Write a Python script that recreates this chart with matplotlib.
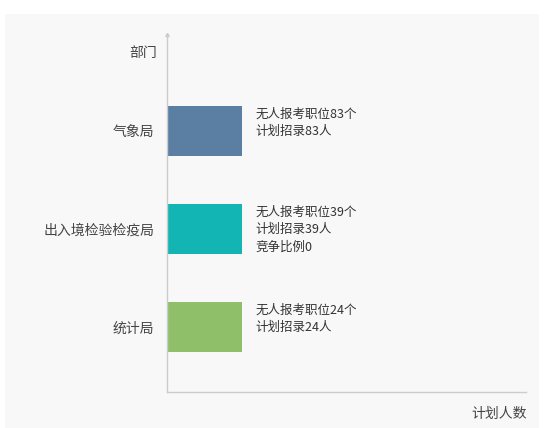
import matplotlib.pyplot as plt
from matplotlib.patches import Rectangle

plt.rcParams['font.family'] = ['Noto Sans CJK SC', 'DejaVu Sans']

# data
departments = ["气象局", "出入境检验检疫局", "统计局"]
bar_values = [1, 1, 1]          # bars are drawn with equal length in the source
no_applicant_posts = [83, 39, 24]
planned_hires = [83, 39, 24]
ratio_text = [None, "0", None]
colors = ["#5b7ea3", "#12b5b3", "#8fbf68"]

W, H = 544, 428
fig = plt.figure(figsize=(W / 100, H / 100), dpi=100)
fig.patch.set_facecolor("white")
fig.patches.append(Rectangle((5 / W, 0), (539 - 5) / W, (H - 14) / H,
                             transform=fig.transFigure, facecolor="#f8f8f8",
                             edgecolor="none", zorder=-10))

# axes box in pixels: x 167..526, y 35..392 (from top)
ax = fig.add_axes([167 / W, (H - 392) / H, (526 - 167) / W, (392 - 35) / H])
ax.set_facecolor("none")

ypos = list(range(len(departments)))
ax.barh(ypos, bar_values, height=0.51, color=colors, zorder=2)
ax.set_xlim(0, 4.79)
ax.set_ylim(2.663, -0.98)

for i, v in enumerate(bar_values):
    lines = [f"无人报考职位{no_applicant_posts[i]}个", f"计划招录{planned_hires[i]}人"]
    if ratio_text[i] is not None:
        lines.append(f"竞争比例{ratio_text[i]}")
    ax.annotate("\n".join(lines), xy=(v, i - 0.255), xytext=(10, -1),
                textcoords="offset points", ha="left", va="top",
                fontsize=9, color="#333333", linespacing=1.45)

ax.set_yticks(ypos)
ax.set_yticklabels(departments, fontsize=10, color="#444444")
ax.tick_params(axis="y", length=0, pad=9)
ax.set_xticks([])

for s in ["top", "right"]:
    ax.spines[s].set_visible(False)
for s in ["left", "bottom"]:
    ax.spines[s].set_color("#cccccc")
    ax.spines[s].set_linewidth(1)

# small arrow at the top of the y axis
ax.plot([0], [1], marker=(3, 0, 0), markersize=3, color="#cccccc",
        transform=ax.transAxes, clip_on=False)

fig.text(157 / W, 1 - 53 / H, "部门", ha="right", va="center",
         fontsize=10, color="#444444")
fig.text(527 / W, 1 - 414 / H, "计划人数", ha="right", va="center",
         fontsize=10, color="#444444")

fig.savefig("out.png", dpi=100)
